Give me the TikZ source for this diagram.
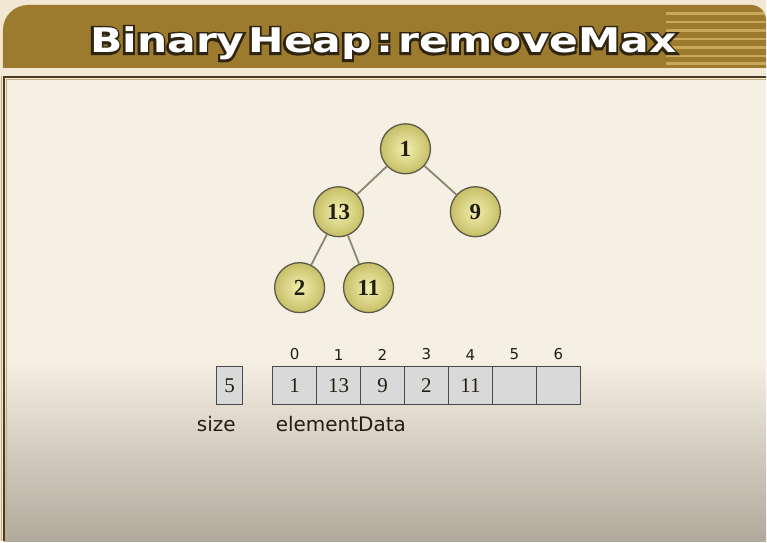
\documentclass[tikz,border=0pt]{standalone}
\usepackage{fontspec}
\setmainfont{Liberation Serif}
\newfontfamily\lsans{DejaVu Sans}
\newfontfamily\titlefont[FakeStretch=1.25]{DejaVu Sans Bold}
\newfontfamily\titleoutfont[FakeStretch=1.25, FakeBold=13]{DejaVu Sans Bold}
\usetikzlibrary{calc}
\definecolor{outerbg}{HTML}{F1E7D3}
\definecolor{bandc}{HTML}{F3E9D6}
\definecolor{barc}{HTML}{9C7A2E}
\definecolor{stripec}{HTML}{C9A85C}
\definecolor{panelc}{HTML}{F6EFE3}
\definecolor{panelbot}{HTML}{B1A99C}
\definecolor{pborder}{HTML}{4B3B1E}
\definecolor{ptan}{HTML}{C9AE78}
\definecolor{nodein}{HTML}{F2EFAE}
\definecolor{nodeout}{HTML}{C6BF68}
\definecolor{nodeline}{HTML}{5E5A48}
\definecolor{edgec}{HTML}{8C8670}
\definecolor{cellfill}{HTML}{D9D9D9}
\definecolor{cellline}{HTML}{4A4A4A}
\definecolor{txt}{HTML}{231E10}
\definecolor{toutline}{HTML}{2E2410}
\newcommand{\ttltext}{Binary\hspace{4pt}Heap\hspace{5pt}:\hspace{5pt}removeMax}
\begin{document}
\begin{tikzpicture}[x=1pt,y=-1pt,
  heapnode/.style={circle, minimum size=50pt, inner sep=0pt, draw=nodeline,
    line width=1.3pt, shade, inner color=nodein, outer color=nodeout,
    text=txt, font=\fontsize{23}{23}\selectfont\bfseries},
  edgeline/.style={draw=edgec, line width=1.8pt},
  cellbox/.style={rectangle, minimum width=44pt, minimum height=38pt,
    inner sep=0pt, draw=cellline, fill=cellfill, line width=1.2pt,
    text=txt, font=\fontsize{21}{21}\selectfont},
  sizebox/.style={cellbox, minimum width=26pt},
  idxlabel/.style={text=txt, font=\lsans\fontsize{15}{15}\selectfont, inner sep=0pt},
  namelabel/.style={text=txt, font=\lsans\fontsize{20}{20}\selectfont, inner sep=0pt},
  titlestyle/.style={font=\titlefont\fontsize{34}{34}\selectfont, inner sep=0pt, anchor=base},
  titleout/.style={font=\titleoutfont\fontsize{34}{34}\selectfont, inner sep=0pt, anchor=base}
]
% background
\fill[outerbg] (0,0) rectangle (767,542);
\fill[bandc] (0,66) rectangle (767,77);
% title bar
\def\barpath{(3,68) -- (3,30) .. controls (3,16.2) and (14.2,5) .. (28,5) -- (752,5) .. controls (760.3,5) and (767,11.7) .. (767,20) -- (767,68) -- cycle}
\fill[barc] \barpath;
\begin{scope}
  \clip \barpath;
  \foreach \yy in {13.5,22,30.5,39,47.5,56,63.5}
    \draw[stripec, line width=2.6pt] (667,\yy) -- (767,\yy);
\end{scope}
% panel
\fill[panelc] (4,77) rectangle (767,542);
\shade[top color=panelc, bottom color=panelbot] (4,360) rectangle (767,542);
\draw[ptan, line width=1pt] (1.5,542) -- (1.5,76);
\draw[ptan, line width=1pt] (6.5,542) -- (6.5,79.5) -- (767,79.5);
\draw[pborder, line width=2pt] (4,542) -- (4,77) -- (767,77);
% title text with outline
\node[titleout, text=toutline] (tout) at (383,53) {\ttltext};
\node[titlestyle, text=white] (title) at (384,53) {\ttltext};
% heap tree
\node[heapnode] (n1) at (406,149) {1};
\node[heapnode] (n13) at (339,212) {13};
\node[heapnode] (n9) at (476,212) {9};
\node[heapnode] (n2) at (300,288) {2};
\node[heapnode] (n11) at (369,288) {11};
\path[edgeline] (n1) -- (n13);
\path[edgeline] (n1) -- (n9);
\path[edgeline] (n13) -- (n2);
\path[edgeline] (n13) -- (n11);
% size
\node[sizebox] (size) at (230,386) {5};
\node[namelabel, anchor=west] (sizelbl) at (197,425) {size};
% array
\foreach \v [count=\i from 0] in {1,13,9,2,11,{},{}} {
  \node[cellbox] (c\i) at (295+44*\i,386) {\v};
  \node[idxlabel] (i\i) at (295+44*\i,355) {\i};
}
\node[namelabel, anchor=west] (arrlbl) at (276,425) {elementData};
\end{tikzpicture}
\end{document}
